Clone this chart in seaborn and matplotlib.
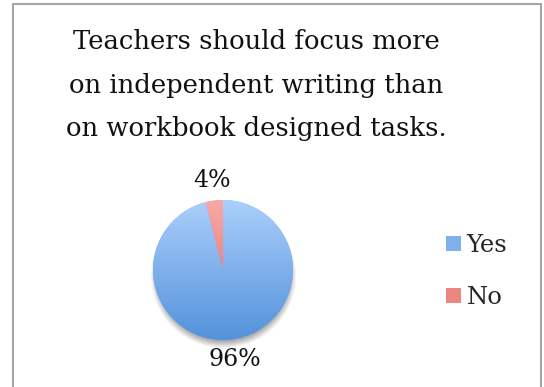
import numpy as np
import matplotlib
matplotlib.use("Agg")
import matplotlib.pyplot as plt
from matplotlib.patches import Rectangle
from matplotlib.colors import LinearSegmentedColormap
import seaborn as sns

# Survey answers
labels = ["Yes", "No"]
shares = [96, 4]
title = "Teachers should focus more\non independent writing than\non workbook designed tasks."

# top-to-bottom gradient colours of each slice
grad_top = ["#abcffb", "#f8aaa6"]
grad_bottom = ["#5392db", "#de5f5f"]
flat = ["#7fb0ea", "#ec8683"]

sns.set_theme(style="white")
plt.rcParams["font.family"] = ["DejaVu Serif"]

W, H = 544, 387
fig = plt.figure(figsize=(W / 100, H / 100), dpi=100)
ax = fig.add_axes([0, 0, 1, 1])
ax.set_xlim(0, W)
ax.set_ylim(0, H)
ax.set_aspect("equal")
ax.axis("off")

cx, cy, r = 223, H - 270, 70

# soft drop shadow under the pie
yy, xx = np.mgrid[0:H, 0:W]
d = np.hypot(xx - cx, (H - yy) - (cy - 5))
shadow = np.clip((r + 3 - d) / 8.0, 0, 1) * 0.5
rgba = np.zeros((H, W, 4))
rgba[..., :3] = 0.3
rgba[..., 3] = shadow
ax.imshow(rgba, extent=(0, W, 0, H), origin="upper", zorder=0, interpolation="bilinear")

wedges, texts, autotexts = ax.pie(
    shares, colors=flat, startangle=90, counterclock=False,
    center=(cx, cy), radius=r, autopct="%d%%", pctdistance=1.29,
    textprops=dict(fontsize=17, color="#111111"),
    wedgeprops=dict(linewidth=0),
)
ax.set_xlim(0, W)
ax.set_ylim(0, H)

# vertical gradient fill clipped to each slice
grad = np.linspace(0, 1, 256).reshape(-1, 1)
for w, top, bot in zip(wedges, grad_top, grad_bottom):
    cmap = LinearSegmentedColormap.from_list("g", [top, bot])
    im = ax.imshow(grad, cmap=cmap, extent=(cx - r, cx + r, cy - r, cy + r),
                   origin="upper", aspect="auto", zorder=w.get_zorder() + 0.1)
    im.set_clip_path(w)

fig.text(256 / W, 1 - 29 / H, title, ha="center", va="top", fontsize=18.6,
         linespacing=1.93, color="#111111")

leg = ax.legend(wedges, labels, loc="upper left", bbox_to_anchor=(446 / W, 1 - 234 / H),
                frameon=False, fontsize=17.5, handlelength=0.62, handleheight=0.62,
                handletextpad=0.22, labelspacing=1.2, borderpad=0, borderaxespad=0)
for h, c in zip(leg.legend_handles, flat):
    h.set_facecolor(c)

fig.add_artist(Rectangle((13 / W, -0.05), 528 / W, 1.05 - 4 / H, transform=fig.transFigure,
                         fill=False, edgecolor="#a6a6a6", linewidth=1.5))

fig.savefig("out.png", dpi=100, facecolor="white")
